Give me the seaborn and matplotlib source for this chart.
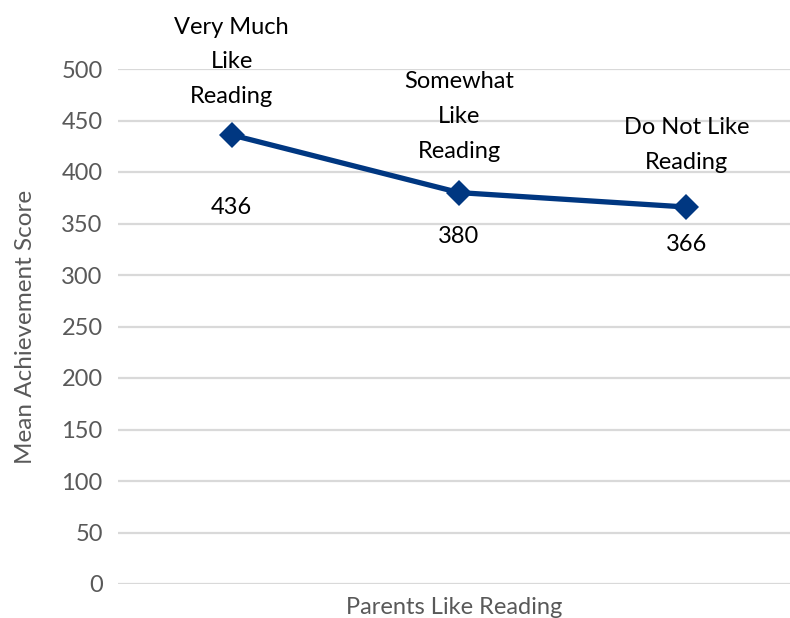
import matplotlib
matplotlib.use("Agg")
import matplotlib.pyplot as plt
import seaborn as sns
import pandas as pd

categories = ["Very Much\nLike\nReading", "Somewhat\nLike\nReading", "Do Not Like\nReading"]
scores = [436, 380, 366]
y_ticks = [0, 50, 100, 150, 200, 250, 300, 350, 400, 450, 500]

# label offsets in pixels (style only)
top_off_px = [28, 31, 34]
val_off_px = [73, 44, 37]

sns.set_theme(style="white")
plt.rcParams["font.family"] = ["Lato", "DejaVu Sans"]

df = pd.DataFrame({"x": range(len(scores)), "score": scores, "cat": categories})

fig = plt.figure(figsize=(7.9, 6.18), dpi=100)
ax = fig.add_axes([118 / 790, (618 - 584) / 618, 1 - 118 / 790, (584 - 69) / 618])

for t in y_ticks:
    ax.axhline(t, color="#d9d9d9", lw=1.6, zorder=0)

sns.lineplot(data=df, x="x", y="score", ax=ax, color="#003781", lw=3.8,
             marker="D", markersize=13, markeredgewidth=0, zorder=3)

px2pt = 72 / 100
for i, row in df.iterrows():
    ax.annotate(row["cat"], (row["x"], row["score"]), xytext=(0, top_off_px[i] * px2pt),
                textcoords="offset points", ha="center", va="bottom", fontsize=17,
                color="black", linespacing=1.8, annotation_clip=False)
    ax.annotate(f"{row['score']}", (row["x"], row["score"]), xytext=(0, -val_off_px[i] * px2pt),
                textcoords="offset points", ha="center", va="center", fontsize=17,
                color="black", annotation_clip=False)

ax.set_xlim(-0.5, 2.5 - 10 / 227)
ax.set_ylim(0, 500)
ax.set_yticks(y_ticks)
ax.set_xticks([])
ax.tick_params(axis="y", length=0, labelsize=17, labelcolor="#595959", pad=11)
for s in ax.spines.values():
    s.set_visible(False)
ax.set_xlabel("Parents Like Reading", fontsize=17, color="#595959", labelpad=9)
ax.set_ylabel("Mean Achievement Score", fontsize=17.5, color="#595959", labelpad=18)

fig.savefig("out.png", dpi=100)
